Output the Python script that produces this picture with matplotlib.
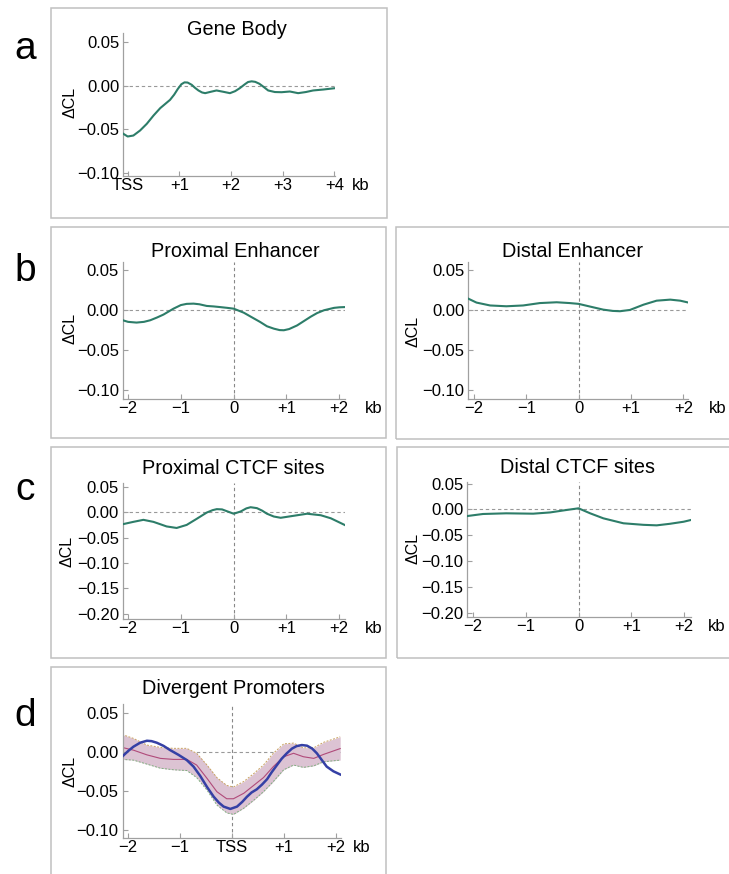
import matplotlib
matplotlib.use("Agg")
import matplotlib.pyplot as plt
from matplotlib.patches import Rectangle
from matplotlib.ticker import FixedLocator, FixedFormatter

plt.rcParams['font.family'] = ['Liberation Sans', 'DejaVu Sans']

# ---------------- data ----------------
# a: Gene Body
gene_x = [-0.084, 0.0, 0.11, 0.24, 0.37, 0.50, 0.63, 0.75, 0.82, 0.90, 0.97, 1.04, 1.10, 1.16, 1.24,
          1.30, 1.37, 1.44, 1.50, 1.61, 1.72, 1.85, 1.98, 2.08, 2.17, 2.27, 2.33, 2.40, 2.47, 2.55,
          2.63, 2.72, 2.85, 2.98, 3.14, 3.30, 3.45, 3.59, 3.79, 4.01]
gene_y = [-0.0555, -0.0586, -0.0575, -0.0517, -0.044, -0.0345, -0.026, -0.020, -0.0165, -0.0105,
          -0.0040, 0.0015, 0.0036, 0.0034, 0.0008, -0.0025, -0.0057, -0.0080, -0.0088, -0.0072,
          -0.0057, -0.0072, -0.0088, -0.0065, -0.0031, 0.0015, 0.0040, 0.0048, 0.0042, 0.0020,
          -0.0015, -0.0057, -0.0075, -0.0077, -0.0069, -0.0088, -0.0075, -0.0057, -0.0046, -0.0031]

# b: Proximal / Distal Enhancer
prox_enh_x = [-2.10, -2.0, -1.84, -1.70, -1.58, -1.45, -1.33, -1.14, -1.0, -0.89, -0.76, -0.65, -0.51,
              -0.38, -0.26, -0.12, 0.0, 0.19, 0.35, 0.50, 0.63, 0.76, 0.87, 0.95, 1.05, 1.20, 1.33,
              1.46, 1.58, 1.71, 1.90, 2.0, 2.11]
prox_enh_y = [-0.0125, -0.0145, -0.0154, -0.0145, -0.0125, -0.009, -0.0054, 0.002, 0.0065, 0.008,
              0.0083, 0.0075, 0.0054, 0.0048, 0.004, 0.003, 0.002, -0.003, -0.009, -0.0146, -0.020,
              -0.023, -0.0248, -0.025, -0.0235, -0.019, -0.0135, -0.008, -0.0035, 0.000, 0.003,
              0.0037, 0.004]
dist_enh_x = [-2.11, -1.95, -1.69, -1.38, -1.06, -0.74, -0.42, -0.17, 0.0, 0.22, 0.47, 0.65, 0.79,
              0.98, 1.24, 1.49, 1.75, 1.94, 2.10]
dist_enh_y = [0.0146, 0.0096, 0.006, 0.005, 0.006, 0.009, 0.010, 0.009, 0.008, 0.0046, 0.0008,
              -0.0008, -0.0012, 0.0004, 0.007, 0.012, 0.0133, 0.012, 0.0096]

# c: Proximal / Distal CTCF sites
prox_ctcf_x = [-2.10, -1.90, -1.71, -1.52, -1.38, -1.27, -1.08, -0.89, -0.70, -0.51, -0.40, -0.32,
               -0.22, -0.13, 0.0, 0.13, 0.24, 0.32, 0.44, 0.54, 0.63, 0.76, 0.89, 1.14, 1.39, 1.65,
               1.84, 2.12]
prox_ctcf_y = [-0.0236, -0.019, -0.015, -0.019, -0.024, -0.028, -0.031, -0.025, -0.013, -0.0007,
               0.004, 0.006, 0.0055, 0.002, -0.003, 0.0013, 0.0075, 0.0098, 0.008, 0.003, -0.003,
               -0.0085, -0.011, -0.007, -0.003, -0.006, -0.012, -0.026]
dist_ctcf_x = [-2.11, -1.81, -1.37, -0.86, -0.54, -0.23, 0.0, 0.22, 0.47, 0.85, 1.23, 1.48, 1.73,
               1.99, 2.13]
dist_ctcf_y = [-0.013, -0.009, -0.0077, -0.0084, -0.006, -0.0013, 0.002, -0.0077, -0.0174, -0.027,
               -0.030, -0.031, -0.028, -0.024, -0.0206]

# d: Divergent Promoters
div_x = [-2.12, -1.90, -1.64, -1.38, -1.13, -0.87, -0.68, -0.48, -0.29, -0.10, 0.03, 0.23, 0.42, 0.61,
         0.80, 1.00, 1.19, 1.38, 1.58, 1.77, 2.09]
div_mean = [0.0055, 0.002, -0.004, -0.0085, -0.0098, -0.0098, -0.017, -0.034, -0.051, -0.060, -0.060,
            -0.053, -0.043, -0.033, -0.019, -0.0064, -0.002, -0.0064, -0.0085, -0.0034, 0.004]
div_upper = [0.022, 0.017, 0.0085, 0.0055, 0.0043, 0.0043, -0.002, -0.017, -0.033, -0.043, -0.045,
             -0.038, -0.028, -0.017, -0.002, 0.010, 0.011, 0.005, 0.005, 0.012, 0.019]
div_lower = [-0.0098, -0.0107, -0.0158, -0.021, -0.023, -0.024, -0.033, -0.049, -0.068, -0.078, -0.080,
             -0.072, -0.062, -0.051, -0.038, -0.023, -0.017, -0.020, -0.018, -0.0128, -0.0107]
div_obs_x = [-2.12, -2.0, -1.90, -1.77, -1.64, -1.55, -1.45, -1.32, -1.19, -1.03, -0.87, -0.74, -0.61,
             -0.48, -0.35, -0.25, -0.16, -0.03, 0.10, 0.20, 0.29, 0.38, 0.48, 0.58, 0.68, 0.77, 0.87,
             0.96, 1.06, 1.16, 1.25, 1.35, 1.45, 1.55, 1.64, 1.74, 1.83, 1.96, 2.09]
div_obs_y = [-0.0064, 0.001, 0.0064, 0.0115, 0.014, 0.0135, 0.0115, 0.0075, 0.002, -0.004, -0.0107,
             -0.019, -0.031, -0.045, -0.0575, -0.065, -0.070, -0.073, -0.070, -0.064, -0.0575, -0.052,
             -0.048, -0.042, -0.035, -0.026, -0.017, -0.009, -0.002, 0.004, 0.0072, 0.0085, 0.0077,
             0.004, -0.002, -0.011, -0.019, -0.025, -0.029]

# tick labels
yt_small = [0.05, 0.0, -0.05, -0.10]
yl_small = ["0.05", "0.00", "\u22120.05", "\u22120.10"]
yt_large = [0.05, 0.0, -0.05, -0.10, -0.15, -0.20]
yl_large = ["0.05", "0.00", "\u22120.05", "\u22120.10", "\u22120.15", "\u22120.20"]
xt_gene = [0, 1, 2, 3, 4]
xl_gene = ["TSS", "+1", "+2", "+3", "+4"]
xt_sym = [-2, -1, 0, 1, 2]
xl_sym = ["\u22122", "\u22121", "0", "+1", "+2"]
xl_div = ["\u22122", "\u22121", "TSS", "+1", "+2"]

titles = ["Gene Body", "Proximal Enhancer", "Distal Enhancer",
          "Proximal CTCF sites", "Distal CTCF sites", "Divergent Promoters"]
letters = ["a", "b", "c", "d"]

# ---------------- figure ----------------
W, H = 729, 874
fig = plt.figure(figsize=(W / 100, H / 100), dpi=100)

TEAL = "#2d7d69"
GRAY = "#a0a0a0"
FRAME = "#c0c0c0"
TICKFS = 12
TITLEFS = 14.3


def fx(px):
    return px / W


def fy(py):
    return 1 - py / H


def frame(l, t, r, b):
    fig.patches.append(Rectangle((fx(l), fy(b)), fx(r - l), (b - t) / H, transform=fig.transFigure,
                                 fill=False, edgecolor=FRAME, lw=1.1))


def make_ax(l, t, r, b, xlim, ylim, xt, xl, yt, yl, title, title_xy, ylab_xy, kb_x, vline=True):
    ax = fig.add_axes([fx(l), fy(b), fx(r - l), (b - t) / H])
    ax.set_xlim(*xlim)
    ax.set_ylim(*ylim)
    for s in ["top", "right"]:
        ax.spines[s].set_visible(False)
    for s in ["left", "bottom"]:
        ax.spines[s].set_color(GRAY)
        ax.spines[s].set_linewidth(0.9)
    ax.patch.set_alpha(0)
    ax.xaxis.set_major_locator(FixedLocator(xt))
    ax.xaxis.set_major_formatter(FixedFormatter(xl))
    ax.yaxis.set_major_locator(FixedLocator(yt))
    ax.yaxis.set_major_formatter(FixedFormatter(yl))
    ax.tick_params(axis="both", direction="in", length=3.5, width=0.8, color=GRAY,
                   labelsize=TICKFS, labelcolor="black")
    ax.tick_params(axis="x", pad=1.5)
    ax.tick_params(axis="y", pad=3.0)
    ax.axhline(0, color="#999999", lw=0.8, ls=(0, (3, 2.5)), zorder=1)
    if vline:
        ax.axvline(0, color="#888888", lw=0.8, ls=(0, (3, 2.5)), zorder=1)
    fig.text(fx(title_xy[0]), fy(title_xy[1]), title, ha="center", va="baseline", fontsize=TITLEFS)
    fig.text(fx(ylab_xy[0]), fy(ylab_xy[1]), "\u0394CL", ha="center", va="center", rotation=90,
             fontsize=11.5)
    ax.annotate("kb", xy=(kb_x, 0), xycoords=("figure pixels", "axes fraction"),
                xytext=(0, -1.5), textcoords="offset points", ha="left", va="top", fontsize=TICKFS)
    return ax


# frames
frame(51, 8, 387, 218)
frame(51, 227, 386, 438.5)
frame(396, 227, 731, 439)
frame(51, 447, 386, 658)
frame(397, 447, 731, 658)
frame(51, 667, 386, 880)

# a
ax = make_ax(123.3, 33.3, 335.3, 176, (-0.085, 4.02), (-0.104, 0.060), xt_gene, xl_gene, yt_small,
             yl_small, titles[0], (236.7, 35), (70, 102), 352, vline=False)
ax.plot(gene_x, gene_y, color=TEAL, lw=1.5, zorder=3)

# b left
ax = make_ax(123, 262.3, 345, 399, (-2.096, 2.108), (-0.111, 0.060), xt_sym, xl_sym, yt_small,
             yl_small, titles[1], (235, 256.7), (70, 328), 365)
ax.plot(prox_enh_x, prox_enh_y, color=TEAL, lw=1.5, zorder=3)

# b right
ax = make_ax(468.3, 262.3, 688.3, 399, (-2.107, 2.095), (-0.111, 0.060), xt_sym, xl_sym, yt_small,
             yl_small, titles[2], (572.5, 256.7), (413, 331), 709)
ax.plot(dist_enh_x, dist_enh_y, color=TEAL, lw=1.5, zorder=3)

# c left
ax = make_ax(123, 482.7, 345, 619, (-2.096, 2.108), (-0.210, 0.058), xt_sym, xl_sym, yt_large,
             yl_large, titles[3], (233.5, 474), (67, 551), 365)
ax.plot(prox_ctcf_x, prox_ctcf_y, color=TEAL, lw=1.5, zorder=3)

# c right
ax = make_ax(467.3, 481.7, 691, 617.3, (-2.107, 2.13), (-0.209, 0.0535), xt_sym, xl_sym, yt_large,
             yl_large, titles[4], (578, 473.3), (413, 548), 708)
ax.plot(dist_ctcf_x, dist_ctcf_y, color=TEAL, lw=1.5, zorder=3)

# d
ax = make_ax(122.7, 704.3, 340.7, 837.7, (-2.107, 2.10), (-0.1097, 0.0605), xt_sym, xl_div, yt_small,
             yl_small, titles[5], (233.5, 694.3), (70, 771), 353)
ax.fill_between(div_x, div_lower, div_upper, color="#dcc3d3", lw=0, zorder=1.5)
ax.plot(div_x, div_upper, color="#c8a060", lw=0.7, ls=(0, (2, 1.5)), zorder=2)
ax.plot(div_x, div_lower, color="#80b080", lw=0.7, ls=(0, (2, 1.5)), zorder=2)
ax.plot(div_x, div_mean, color="#b04a7a", lw=0.8, zorder=2.5)
ax.plot(div_obs_x, div_obs_y, color="#3540a5", lw=1.8, zorder=3)

# panel letters
for letter, (x, y) in zip(letters, [(25, 59), (25, 281), (25, 500), (25, 726)]):
    fig.text(fx(x), fy(y), letter, ha="center", va="baseline", fontsize=28)

fig.savefig("out.png", dpi=100)
